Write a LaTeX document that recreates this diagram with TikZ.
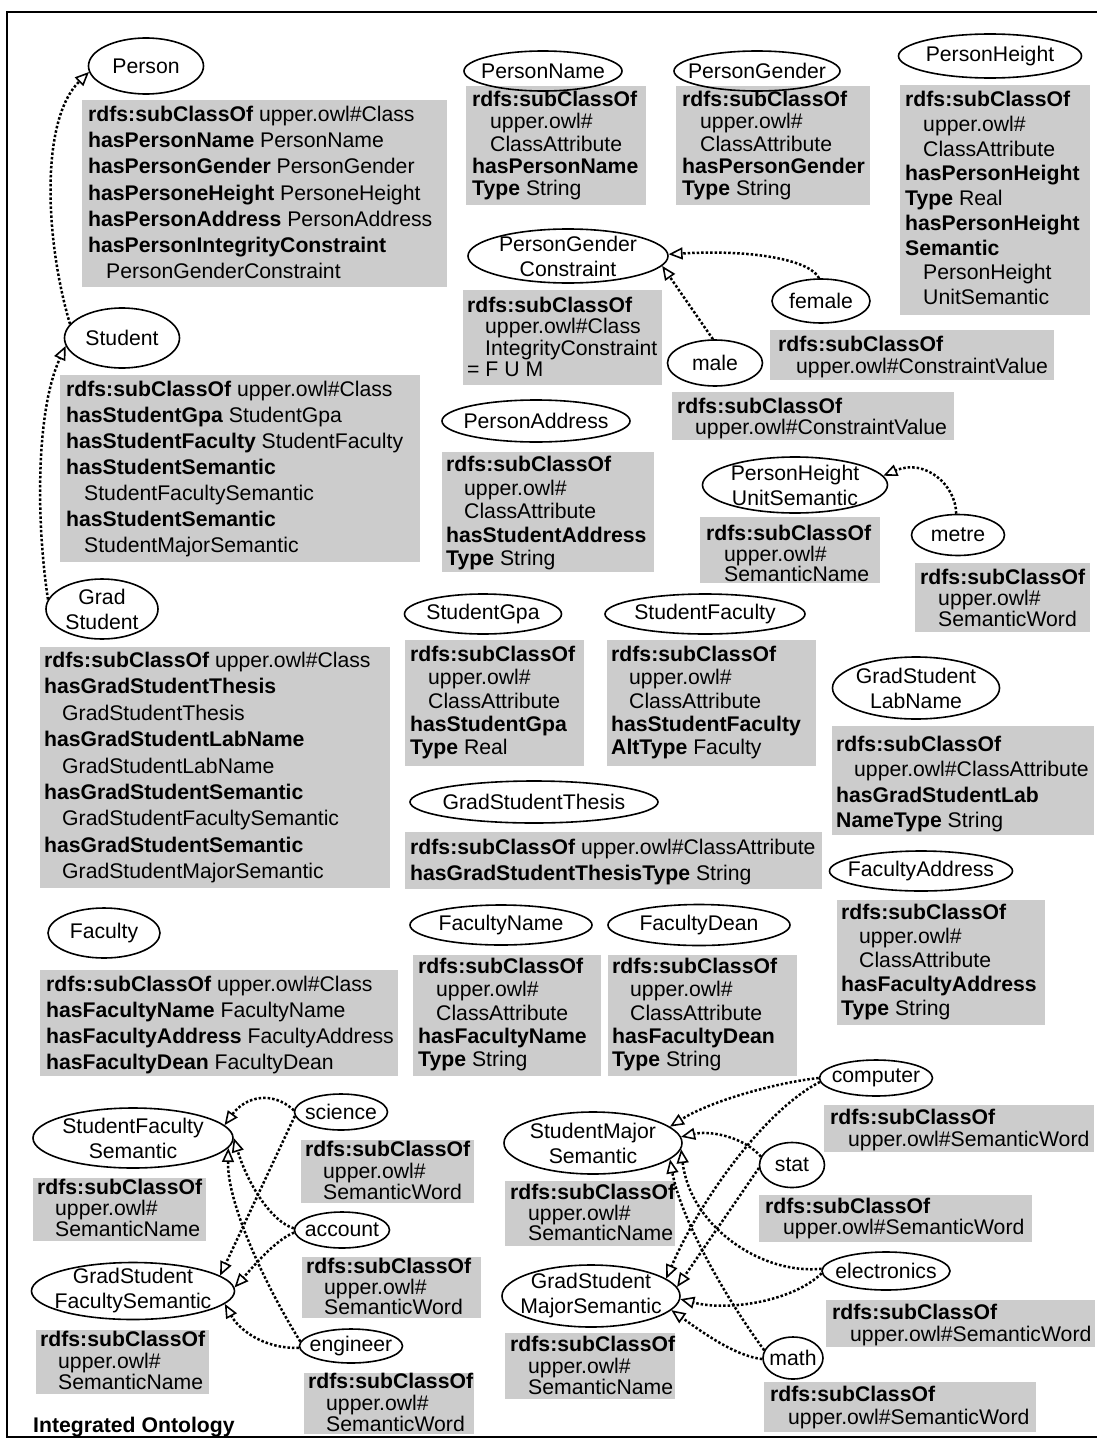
\documentclass[tikz,border=0pt]{standalone}
\usepackage{fontspec}
\setmainfont{Liberation Sans}
\usetikzlibrary{arrows.meta,shapes.geometric}
\definecolor{boxgray}{RGB}{204,204,204}
\newcommand\tsz[1]{\fontsize{21.2pt}{#1pt}\selectfont}
\newcommand\indt{\hspace*{18pt}}
\newcommand\kw[1]{\textbf{#1}}

\begin{document}
\begin{tikzpicture}[x=1pt,y=-1pt,
  cls/.style={draw, ellipse, line width=1.6pt, inner xsep=-40pt, inner ysep=-14pt,
              align=center, font=\tsz{25}},
  props/.style={anchor=north west, inner sep=0pt, align=left},
  shade/.style={fill=boxgray},
  isa/.style={line width=2.5pt, dash pattern=on 2.5pt off 2pt,
              -{Triangle[open,length=14pt,width=12pt,line width=1.6pt]}},
]
\useasboundingbox (0,0) rectangle (1097,1445);
\fill[white] (0,0) rectangle (1097,1445);
\draw[line width=2pt] (1097,12) -- (7,12) -- (7,1437) -- (1097,1437);

% ---------- property panels ----------
\fill[shade] (82,100) rectangle (447,287);
\fill[shade] (60,375) rectangle (420,562);
\fill[shade] (40,647) rectangle (390,888);
\fill[shade] (40,970) rectangle (398,1076);
\fill[shade] (466,86) rectangle (646,205);
\fill[shade] (676,86) rectangle (870,205);
\fill[shade] (900,85) rectangle (1090,315);
\fill[shade] (463,290) rectangle (662,385);
\fill[shade] (770,330) rectangle (1054,380);
\fill[shade] (672,392) rectangle (954,440);
\fill[shade] (442,452) rectangle (654,572);
\fill[shade] (700,517) rectangle (880,583);
\fill[shade] (915,563) rectangle (1090,632);
\fill[shade] (405,640) rectangle (584,766);
\fill[shade] (607,640) rectangle (816,766);
\fill[shade] (832,726) rectangle (1094,835);
\fill[shade] (405,832) rectangle (822,889);
\fill[shade] (837,900) rectangle (1045,1025);
\fill[shade] (413,955) rectangle (601,1076);
\fill[shade] (608,955) rectangle (797,1076);
\fill[shade] (33,1178) rectangle (206,1241);
\fill[shade] (36,1330) rectangle (209,1394);
\fill[shade] (301,1140) rectangle (474,1203);
\fill[shade] (302,1257) rectangle (481,1318);
\fill[shade] (304,1373) rectangle (474,1434);
\fill[shade] (505,1181) rectangle (675,1246);
\fill[shade] (505,1333) rectangle (675,1399);
\fill[shade] (824,1105) rectangle (1094,1152);
\fill[shade] (759,1195) rectangle (1032,1242);
\fill[shade] (826,1300) rectangle (1095,1347);
\fill[shade] (764,1382) rectangle (1036,1432);

% ---------- property texts ----------
\node[props, font=\tsz{26.2}] (person-p) at (88,106) {\kw{rdfs:subClassOf} upper.owl\#Class\\
  \kw{hasPersonName} PersonName\\ \kw{hasPersonGender} PersonGender\\
  \kw{hasPersoneHeight} PersoneHeight\\ \kw{hasPersonAddress} PersonAddress\\
  \kw{hasPersonIntegrityConstraint}\\ \indt PersonGenderConstraint};
\node[props, font=\tsz{26}] (student-p) at (66,381) {\kw{rdfs:subClassOf} upper.owl\#Class\\
  \kw{hasStudentGpa} StudentGpa\\ \kw{hasStudentFaculty} StudentFaculty\\
  \kw{hasStudentSemantic}\\ \indt StudentFacultySemantic\\
  \kw{hasStudentSemantic}\\ \indt StudentMajorSemantic};
\node[props, font=\tsz{26.4}] (grad-p) at (44,652) {\kw{rdfs:subClassOf} upper.owl\#Class\\
  \kw{hasGradStudentThesis}\\ \indt GradStudentThesis\\
  \kw{hasGradStudentLabName}\\ \indt GradStudentLabName\\
  \kw{hasGradStudentSemantic}\\ \indt GradStudentFacultySemantic\\
  \kw{hasGradStudentSemantic}\\ \indt GradStudentMajorSemantic};
\node[props, font=\tsz{26}] (faculty-p) at (46,976) {\kw{rdfs:subClassOf} upper.owl\#Class\\
  \kw{hasFacultyName} FacultyName\\ \kw{hasFacultyAddress} FacultyAddress\\
  \kw{hasFacultyDean} FacultyDean};
\node[props, font=\tsz{22.25}] (pname-p) at (472,91) {\kw{rdfs:subClassOf}\\ \indt upper.owl\#\\
  \indt ClassAttribute\\ \kw{hasPersonName}\\ \kw{Type} String};
\node[props, font=\tsz{22.25}] (pgender-p) at (682,91) {\kw{rdfs:subClassOf}\\ \indt upper.owl\#\\
  \indt ClassAttribute\\ \kw{hasPersonGender}\\ \kw{Type} String};
\node[props, font=\tsz{24.75}] (pheight-p) at (905,91) {\kw{rdfs:subClassOf}\\ \indt upper.owl\#\\
  \indt ClassAttribute\\ \kw{hasPersonHeight}\\ \kw{Type} Real\\ \kw{hasPersonHeight}\\
  \kw{Semantic}\\ \indt PersonHeight\\ \indt UnitSemantic};
\node[props, font=\tsz{21.3}] (pgc-p) at (467,297) {\kw{rdfs:subClassOf}\\ \indt upper.owl\#Class\\
  \indt IntegrityConstraint\\ = F U M};
\node[props, font=\tsz{22}] (female-p) at (778,336) {\kw{rdfs:subClassOf}\\ \indt upper.owl\#ConstraintValue};
\node[props, font=\tsz{21}] (male-p) at (677,398) {\kw{rdfs:subClassOf}\\ \indt upper.owl\#ConstraintValue};
\node[props, font=\tsz{23.5}] (paddr-p) at (446,456) {\kw{rdfs:subClassOf}\\ \indt upper.owl\#\\
  \indt ClassAttribute\\ \kw{hasStudentAddress}\\ \kw{Type} String};
\node[props, font=\tsz{20.5}] (phus-p) at (706,525) {\kw{rdfs:subClassOf}\\ \indt upper.owl\#\\ \indt SemanticName};
\node[props, font=\tsz{21}] (metre-p) at (920,569) {\kw{rdfs:subClassOf}\\ \indt upper.owl\#\\ \indt SemanticWord};
\node[props, font=\tsz{23.25}] (sgpa-p) at (410,646) {\kw{rdfs:subClassOf}\\ \indt upper.owl\#\\
  \indt ClassAttribute\\ \kw{hasStudentGpa}\\ \kw{Type} Real};
\node[props, font=\tsz{23.25}] (sfac-p) at (611,646) {\kw{rdfs:subClassOf}\\ \indt upper.owl\#\\
  \indt ClassAttribute\\ \kw{hasStudentFaculty}\\ \kw{AltType} Faculty};
\node[props, font=\tsz{25.3}] (gsl-p) at (836,736) {\kw{rdfs:subClassOf}\\ \indt upper.owl\#ClassAttribute\\
  \kw{hasGradStudentLab}\\ \kw{NameType} String};
\node[props, font=\tsz{26}] (gst-p) at (410,839) {\kw{rdfs:subClassOf} upper.owl\#ClassAttribute\\
  \kw{hasGradStudentThesisType} String};
\node[props, font=\tsz{24}] (faddr-p) at (841,904) {\kw{rdfs:subClassOf}\\ \indt upper.owl\#\\
  \indt ClassAttribute\\ \kw{hasFacultyAddress}\\ \kw{Type} String};
\node[props, font=\tsz{23.25}] (fname-p) at (418,958) {\kw{rdfs:subClassOf}\\ \indt upper.owl\#\\
  \indt ClassAttribute\\ \kw{hasFacultyName}\\ \kw{Type} String};
\node[props, font=\tsz{23.25}] (fdean-p) at (612,958) {\kw{rdfs:subClassOf}\\ \indt upper.owl\#\\
  \indt ClassAttribute\\ \kw{hasFacultyDean}\\ \kw{Type} String};
\node[props, font=\tsz{21}] (sfs-p) at (37,1179) {\kw{rdfs:subClassOf}\\ \indt upper.owl\#\\ \indt SemanticName};
\node[props, font=\tsz{21.5}] (gfs-p) at (40,1331) {\kw{rdfs:subClassOf}\\ \indt upper.owl\#\\ \indt SemanticName};
\node[props, font=\tsz{21.5}] (science-p) at (305,1141) {\kw{rdfs:subClassOf}\\ \indt upper.owl\#\\ \indt SemanticWord};
\node[props, font=\tsz{20.5}] (account-p) at (306,1258) {\kw{rdfs:subClassOf}\\ \indt upper.owl\#\\ \indt SemanticWord};
\node[props, font=\tsz{21.5}] (engineer-p) at (308,1373) {\kw{rdfs:subClassOf}\\ \indt upper.owl\#\\ \indt SemanticWord};
\node[props, font=\tsz{20.5}] (sms-p) at (510,1184) {\kw{rdfs:subClassOf}\\ \indt upper.owl\#\\ \indt SemanticName};
\node[props, font=\tsz{21.5}] (gms-p) at (510,1336) {\kw{rdfs:subClassOf}\\ \indt upper.owl\#\\ \indt SemanticName};
\node[props, font=\tsz{22}] (computer-p) at (830,1109) {\kw{rdfs:subClassOf}\\ \indt upper.owl\#SemanticWord};
\node[props, font=\tsz{21}] (stat-p) at (765,1198) {\kw{rdfs:subClassOf}\\ \indt upper.owl\#SemanticWord};
\node[props, font=\tsz{22}] (electronics-p) at (832,1304) {\kw{rdfs:subClassOf}\\ \indt upper.owl\#SemanticWord};
\node[props, font=\tsz{23}] (math-p) at (770,1386) {\kw{rdfs:subClassOf}\\ \indt upper.owl\#SemanticWord};

\node[props, font=\tsz{25}] (title) at (33,1417) {\kw{Integrated Ontology}};

% ---------- classes ----------
\node[cls, minimum width=115pt, minimum height=56pt] (person) at (146,66) {Person};
\node[cls, minimum width=115pt, minimum height=60pt] (student) at (122,338) {Student};
\node[cls, minimum width=112pt, minimum height=60pt] (grad) at (102,609) {Grad\\Student};
\node[cls, minimum width=112pt, minimum height=50pt] (faculty) at (104,933) {Faculty};
\node[cls, minimum width=158pt, minimum height=40pt] (pname) at (543,71) {PersonName};
\node[cls, minimum width=166pt, minimum height=40pt] (pgender) at (757,71) {PersonGender};
\node[cls, minimum width=183pt, minimum height=44pt] (pheight) at (990,56) {PersonHeight};
\node[cls, minimum width=200pt, minimum height=54pt] (pgc) at (568,256) {PersonGender\\Constraint};
\node[cls, minimum width=98pt, minimum height=44pt] (female) at (821,301) {female};
\node[cls, minimum width=95pt, minimum height=46pt] (male) at (715,363) {male};
\node[cls, minimum width=188pt, minimum height=42pt] (paddr) at (536,421) {PersonAddress};
\node[cls, minimum width=185pt, minimum height=56pt] (phus) at (795,485) {PersonHeight\\UnitSemantic};
\node[cls, minimum width=93pt, minimum height=41pt] (metre) at (958,535) {metre};
\node[cls, minimum width=157pt, minimum height=40pt] (sgpa) at (483,614) {StudentGpa};
\node[cls, minimum width=200pt, minimum height=40pt] (sfac) at (705,614) {StudentFaculty};
\node[cls, minimum width=167pt, minimum height=62pt] (gsl) at (916,688) {GradStudent\\LabName};
\node[cls, minimum width=248pt, minimum height=42pt] (gst) at (534,802) {GradStudentThesis};
\node[cls, minimum width=183pt, minimum height=40pt] (faddr) at (921,871) {FacultyAddress};
\node[cls, minimum width=182pt, minimum height=40pt] (fname) at (501,925) {FacultyName};
\node[cls, minimum width=182pt, minimum height=41pt] (fdean) at (699,925) {FacultyDean};
\node[cls, minimum width=200pt, minimum height=60pt] (sfs) at (133,1138) {StudentFaculty\\Semantic};
\node[cls, minimum width=203pt, minimum height=57pt] (gfs) at (133,1291) {GradStudent\\FacultySemantic};
\node[cls, minimum width=93pt, minimum height=36pt] (science) at (341,1112) {science};
\node[cls, minimum width=95pt, minimum height=36pt] (account) at (342,1230) {account};
\node[cls, minimum width=103pt, minimum height=34pt] (engineer) at (351,1346) {engineer};
\node[cls, minimum width=178pt, minimum height=62pt] (sms) at (593,1143) {StudentMajor\\Semantic};
\node[cls, minimum width=178pt, minimum height=62pt] (gms) at (591,1296) {GradStudent\\MajorSemantic};
\node[cls, minimum width=113pt, minimum height=36pt] (computer) at (876,1078) {computer};
\node[cls, minimum width=65pt, minimum height=45pt] (stat) at (792,1165) {stat};
\node[cls, minimum width=128pt, minimum height=38pt] (electronics) at (886,1271) {electronics};
\node[cls, minimum width=60pt, minimum height=42pt] (math) at (793,1358) {math};

% ---------- subclass links ----------
\draw[isa] (student.165) .. controls (45,240) and (40,120) .. (person.186);
\draw[isa] (grad.170) .. controls (36,520) and (36,410) .. (student.188);

\draw[isa] (female.95) .. controls (812,262) and (760,249) .. (pgc.1);
\draw[isa] (male.95) -- (pgc.-6);
\draw[isa] (metre.95) .. controls (956,485) and (925,458) .. (phus.6);

\draw[isa] (science.178) .. controls (272,1090) and (245,1097) .. (sfs.8);
\draw[isa] (science.185) -- (gfs.10);
\draw[isa] (account.178) .. controls (272,1222) and (248,1185) .. (sfs.0);
\draw[isa] (account.183) .. controls (275,1240) and (252,1268) .. (gfs.2);
\draw[isa] (engineer.175) .. controls (268,1290) and (227,1205) .. (sfs.-6);
\draw[isa] (engineer.182) .. controls (262,1349) and (238,1328) .. (gfs.-8);

\draw[isa] (computer.180) .. controls (780,1082) and (712,1100) .. (sms.12);
\draw[isa] (computer.184) .. controls (765,1110) and (700,1200) .. (gms.13);
\draw[isa] (stat.165) .. controls (745,1138) and (712,1130) .. (sms.4);
\draw[isa] (stat.185) -- (gms.6);
\draw[isa] (electronics.178) .. controls (760,1275) and (690,1225) .. (sms.-4);
\draw[isa] (electronics.182) .. controls (795,1300) and (730,1312) .. (gms.-2);
\draw[isa] (math.165) .. controls (720,1290) and (680,1215) .. (sms.-12);
\draw[isa] (math.182) .. controls (735,1356) and (702,1332) .. (gms.-10);
\end{tikzpicture}
\end{document}
